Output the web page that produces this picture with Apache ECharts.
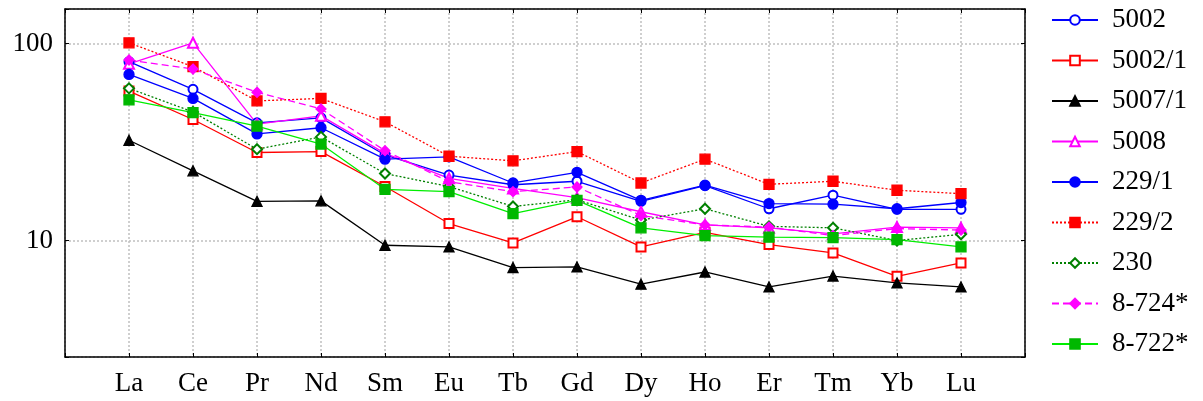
<!DOCTYPE html>
<html>
<head>
<meta charset="utf-8">
<script src="https://cdn.jsdelivr.net/npm/echarts@6/dist/echarts.min.js"></script>
<style>
  html, body { margin: 0; padding: 0; background: #fff; }
  #chart { width: 1203px; height: 401px; }
</style>
</head>
<body>
<div id="chart"></div>
<script>
// REE elements along the x axis
const categories = ['La', 'Ce', 'Pr', 'Nd', 'Sm', 'Eu', 'Tb', 'Gd', 'Dy', 'Ho', 'Er', 'Tm', 'Yb', 'Lu'];

// Normalised concentrations per sample
const s5002   = [81, 58.6, 39.6, 42, 27.2, 21.5, 19.2, 20.0, 15.8, 19.0, 14.5, 17.0, 14.4, 14.4];
const s5002_1 = [57.4, 41.2, 28.0, 28.3, 18.8, 12.2, 9.72, 13.2, 9.28, 11.0, 9.54, 8.65, 6.58, 7.69];
const s5007_1 = [32.3, 22.6, 15.8, 15.9, 9.46, 9.28, 7.29, 7.34, 6.0, 6.92, 5.81, 6.6, 6.09, 5.81];
const s5008   = [79, 101, 39, 43, 27.7, 20.7, 18.4, 16.5, 14.0, 12.0, 11.6, 10.8, 11.7, 11.6];
const s229_1  = [69.8, 52.7, 34.8, 37.4, 25.9, 26.6, 19.6, 22.2, 16.0, 19.1, 15.4, 15.3, 14.5, 15.6];
const s229_2  = [101, 76.4, 51.2, 52.7, 40.1, 26.8, 25.4, 28.3, 19.6, 25.9, 19.3, 20.0, 18.0, 17.3];
const s230    = [59.3, 45, 29.1, 33.6, 21.9, 18.8, 14.9, 16.1, 12.7, 14.5, 11.8, 11.6, 10.0, 10.75];
const s8_724  = [82.6, 74.3, 56.6, 46.6, 28.6, 19.9, 17.7, 18.7, 13.4, 12.0, 11.7, 10.6, 11.5, 11.3];
const s8_722  = [51.8, 44.6, 38.1, 30.9, 18.2, 17.7, 13.7, 16.0, 11.6, 10.6, 10.4, 10.35, 10.1, 9.28];

// Labelled ticks on the log axis
const yTickLabels = [10, 100];

const FONT = '"Liberation Serif", serif';

function mk(name, values, opt) {
  return {
    name: name,
    type: 'line',
    data: values.map((v, i) => [i, v]),
    symbol: opt.symbol,
    symbolSize: opt.size,
    lineStyle: { color: opt.line || opt.color, width: 1.3, type: opt.dash || 'solid' },
    itemStyle: { color: opt.fill || opt.color, borderColor: opt.color, borderWidth: 1.3 },
    emphasis: { disabled: true },
    animation: false
  };
}

const series = [
  mk('5002',   s5002,   { symbol: 'emptyCircle',   size: 9,  color: '#0000ff' }),
  mk('5002/1', s5002_1, { symbol: 'emptyRect',     size: 9,  color: '#ff0000' }),
  mk('5007/1', s5007_1, { symbol: 'triangle',      size: 10, color: '#000000' }),
  mk('5008',   s5008,   { symbol: 'emptyTriangle', size: 10, color: '#ff00ff' }),
  mk('229/1',  s229_1,  { symbol: 'circle',        size: 10, color: '#0000ff' }),
  mk('229/2',  s229_2,  { symbol: 'rect',          size: 10, color: '#ff0000', dash: [2, 2] }),
  mk('230',    s230,    { symbol: 'emptyDiamond',  size: 10, color: '#008000', dash: [2, 2] }),
  mk('8-724*', s8_724,  { symbol: 'diamond',       size: 10, color: '#ff00ff', dash: [7, 4] }),
  mk('8-722*', s8_722,  { symbol: 'rect',          size: 10, color: '#00b800', line: '#00ee00' })
];

const chart = echarts.init(document.getElementById('chart'), null, { renderer: 'canvas' });

const gridLine = { show: true, lineStyle: { color: '#c0c0c0', width: 1.5, type: [2, 2] } };
const frameLine = { show: true, onZero: false, lineStyle: { color: '#000', width: 1.5 } };

chart.setOption({
  backgroundColor: '#fff',
  textStyle: { fontFamily: FONT },
  grid: { left: 65, right: 178, top: 9, bottom: 44 },
  legend: {
    orient: 'vertical',
    left: 1046,
    top: 0,
    itemWidth: 46,
    itemHeight: 12,
    itemGap: 10.5,
    selectedMode: false,
    textStyle: { fontFamily: FONT, fontSize: 27, color: '#000', lineHeight: 30, padding: [0, 0, 0, 9] },
    data: series.map(s => s.name)
  },
  xAxis: [
    {
      type: 'value', min: -1, max: 14, interval: 1,
      axisLine: frameLine,
      axisTick: { show: true, inside: true, length: 4, lineStyle: { color: '#000' } },
      axisLabel: {
        margin: 13, fontSize: 27, color: '#000', fontFamily: FONT,
        formatter: v => categories[v] || ''
      },
      splitLine: gridLine
    },
    {
      type: 'value', position: 'top', min: -1, max: 14, interval: 1,
      axisLine: frameLine,
      axisTick: { show: true, inside: true, length: 4, lineStyle: { color: '#000' } },
      axisLabel: { show: false },
      splitLine: { show: false }
    }
  ],
  yAxis: [
    {
      type: 'log', logBase: 10, min: 2.56, max: 150,
      axisLine: frameLine,
      axisTick: { show: true, inside: true, length: 4, lineStyle: { color: '#000' } },
      axisLabel: {
        margin: 12, fontSize: 27, color: '#000', fontFamily: FONT,
        formatter: v => {
          const r = Math.round(v);
          return yTickLabels.indexOf(r) >= 0 && Math.abs(v - r) < 1e-6 ? String(r) : '';
        }
      },
      splitLine: gridLine
    },
    {
      type: 'log', logBase: 10, min: 2.56, max: 150, position: 'right',
      axisLine: frameLine,
      axisTick: { show: true, inside: true, length: 4, lineStyle: { color: '#000' } },
      axisLabel: { show: false },
      splitLine: { show: false }
    }
  ],
  series: series
});
</script>
</body>
</html>
